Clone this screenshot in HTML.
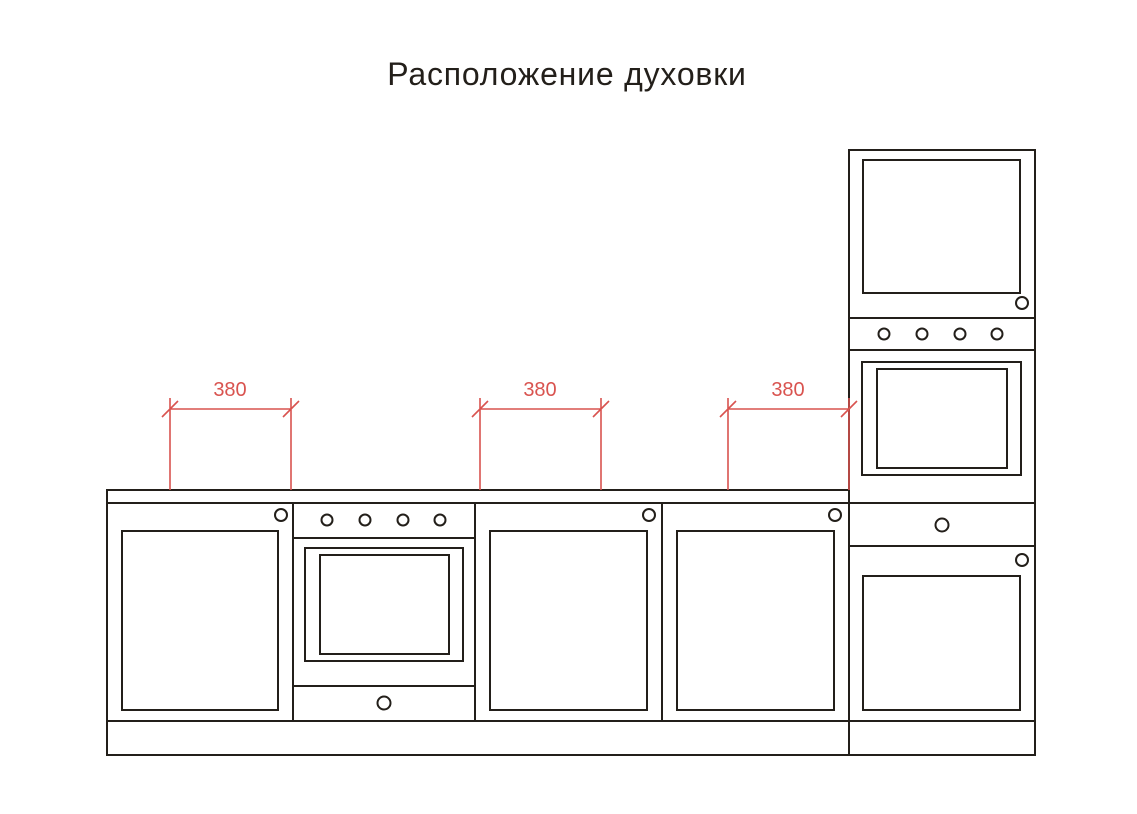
<!DOCTYPE html>
<html><head><meta charset="utf-8"><style>
html,body{margin:0;padding:0;background:#fff;width:1137px;height:814px;overflow:hidden}
</style></head><body>
<svg width="1137" height="814" viewBox="0 0 1137 814" xmlns="http://www.w3.org/2000/svg">
<text x="567" y="85" text-anchor="middle" font-family="Liberation Sans, DejaVu Sans, sans-serif" font-size="32" letter-spacing="0.8" fill="#231f1a">Расположение духовки</text>
<g fill="none" stroke="#231f1a" stroke-width="2">
<rect x="107" y="490" width="742" height="13"/>
<rect x="107" y="503" width="742" height="252"/>
<line x1="107" y1="721" x2="849" y2="721"/>
<line x1="293" y1="503" x2="293" y2="721"/>
<line x1="475" y1="503" x2="475" y2="721"/>
<line x1="662" y1="503" x2="662" y2="721"/>
<rect x="122" y="531" width="156" height="179"/>
<circle cx="281" cy="515" r="6"/>
<line x1="293" y1="538" x2="475" y2="538"/>
<circle cx="327" cy="520" r="5.5"/><circle cx="365" cy="520" r="5.5"/><circle cx="403" cy="520" r="5.5"/><circle cx="440" cy="520" r="5.5"/>
<rect x="305" y="548" width="158" height="113"/>
<rect x="320" y="555" width="129" height="99"/>
<line x1="293" y1="686" x2="475" y2="686"/>
<circle cx="384" cy="703" r="6.5"/>
<rect x="490" y="531" width="157" height="179"/>
<circle cx="649" cy="515" r="6"/>
<rect x="677" y="531" width="157" height="179"/>
<circle cx="835" cy="515" r="6"/>
<rect x="849" y="150" width="186" height="605"/>
<rect x="863" y="160" width="157" height="133"/>
<circle cx="1022" cy="303" r="6"/>
<line x1="849" y1="318" x2="1035" y2="318"/>
<line x1="849" y1="350" x2="1035" y2="350"/>
<circle cx="884" cy="334" r="5.5"/><circle cx="922" cy="334" r="5.5"/><circle cx="960" cy="334" r="5.5"/><circle cx="997" cy="334" r="5.5"/>
<rect x="862" y="362" width="159" height="113"/>
<rect x="877" y="369" width="130" height="99"/>
<line x1="849" y1="503" x2="1035" y2="503"/>
<circle cx="942" cy="525" r="6.5"/>
<line x1="849" y1="546" x2="1035" y2="546"/>
<circle cx="1022" cy="560" r="6"/>
<rect x="863" y="576" width="157" height="134"/>
<line x1="849" y1="721" x2="1035" y2="721"/>
</g>
<g stroke="#d9534f" stroke-width="1.6" fill="none">
<path d="M170 398V490M291 398V490M170 409H291M162 417L178 401M283 417L299 401"/>
<path d="M480 398V490M601 398V490M480 409H601M472 417L488 401M593 417L609 401"/>
<path d="M728 398V490M849 398V490M728 409H849M720 417L736 401M841 417L857 401"/>
</g>
<g font-family="Liberation Sans, DejaVu Sans, sans-serif" font-size="20" fill="#d9534f" text-anchor="middle">
<text x="230" y="396">380</text>
<text x="540" y="396">380</text>
<text x="788" y="396">380</text>
</g>
</svg>
</body></html>
